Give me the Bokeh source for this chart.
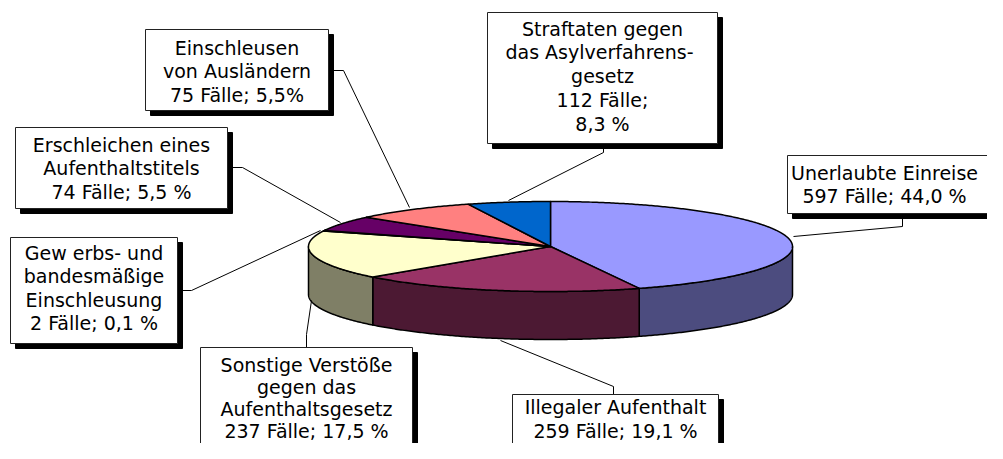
import numpy as np
from bokeh.plotting import figure
from bokeh.models import Range1d, ColumnDataSource
from bokeh.embed import file_html
from bokeh.resources import INLINE
from bokeh.core.properties import value

# ---------------- data (slice order: clockwise from 12 o'clock) ----------------
categories = ["Unerlaubte Einreise", "Illegaler Aufenthalt",
              "Sonstige Verstöße gegen das Aufenthaltsgesetz",
              "Gewerbs- und bandesmäßige Einschleusung",
              "Erschleichen eines Aufenthaltstitels",
              "Straftaten gegen das Asylverfahrensgesetz",
              "Einschleusen von Ausländern"]
counts = [597, 259, 237, 2, 74, 112, 75]
top_colors = ["#9999FF", "#993366", "#FFFFCC", "#CCFFFF", "#660066", "#FF8080", "#0066CC"]

label_lines = [
    ["Unerlaubte Einreise", "597 Fälle; 44,0 %"],
    ["Illegaler Aufenthalt", "259 Fälle; 19,1 %"],
    ["Sonstige Verstöße", "gegen das", "Aufenthaltsgesetz", "237 Fälle; 17,5 %"],
    ["Gew erbs- und", "bandesmäßige", "Einschleusung", "2 Fälle; 0,1 %"],
    ["Erschleichen eines", "Aufenthaltstitels", "74 Fälle; 5,5 %"],
    ["Straftaten gegen", "das  Asylverfahrens-", "gesetz", "112 Fälle;", "8,3 %"],
    ["Einschleusen", "von Ausländern", "75 Fälle; 5,5%"],
]

# ---------------- layout (reference pixel coordinates) ----------------
CX, CY, RX, RY, DEPTH = 550.0, 246.0, 242.0, 45.0, 48.0
# box: left, right, top, bottom, text centre x, first line y, line height
boxes = [
    (787, 1003, 155, 213, 884, 172, 23.6),
    (512, 718, 394, 462, 615, 406, 24.0),
    (200, 412, 347, 450, 306, 364, 22.0),
    (10, 177, 237, 343, 93.5, 252, 23.6),
    (15, 227, 127, 208, 121, 144, 23.6),
    (487, 717, 12, 143, 602, 28, 23.8),
    (145, 328, 29, 110, 236.5, 47, 23.6),
]
leaders = [
    [(902, 213), (902, 226), (793, 236)],
    [(613, 394), (613, 386), (500, 340)],
    [(306, 347), (306, 334), (311, 300)],
    [(177, 290), (191, 290), (320, 230)],
    [(227, 167), (242, 167), (340, 222)],
    [(603, 143), (603, 152), (508, 200)],
    [(328, 70), (343, 70), (409, 207)],
]
SHADOW = 5


def darken(c):
    r, g, b = int(c[1:3], 16), int(c[3:5], 16), int(c[5:7], 16)
    return "#%02X%02X%02X" % (r // 2, g // 2, b // 2)


side_colors = [darken(c) for c in top_colors]

p = figure(width=987, height=443, output_backend="svg", toolbar_location=None,
           x_range=Range1d(0, 987), y_range=Range1d(443, 0),
           min_border=0, x_axis_location=None, y_axis_location=None)
p.grid.visible = False
p.outline_line_color = None
p.background_fill_color = "white"

vals = np.array(counts, dtype=float)
frac = vals / vals.sum()
cum = np.concatenate([[0.0], np.cumsum(frac)])
t_start = 90.0 - 360.0 * cum[:-1]
t_end = 90.0 - 360.0 * cum[1:]


def arc(a, b):
    n = max(3, int(abs(b - a) * 2))
    t = np.radians(np.linspace(a, b, n))
    return CX + RX * np.cos(t), CY - RY * np.sin(t)


# sides (front half only)
sxs, sys, scol = [], [], []
for i in range(len(counts)):
    a = max(t_end[i], -180.0)
    b = min(t_start[i], 0.0)
    if a < b:
        x, y = arc(b, a)
        sxs.append(list(x) + list(x[::-1]))
        sys.append(list(y) + list((y + DEPTH)[::-1]))
        scol.append(side_colors[i])
p.patches(xs="xs", ys="ys", fill_color="c", line_color="black", line_width=1.5,
          line_join="round",
          source=ColumnDataSource(dict(xs=sxs, ys=sys, c=scol)))

# tops
txs, tys = [], []
for i in range(len(counts)):
    x, y = arc(t_start[i], t_end[i])
    txs.append([CX] + list(x) + [CX])
    tys.append([CY] + list(y) + [CY])
p.patches(xs="xs", ys="ys", fill_color="c", line_color="black", line_width=1.5,
          line_join="round",
          source=ColumnDataSource(dict(xs=txs, ys=tys, c=top_colors)))

# leader lines
p.multi_line(xs=[[pt[0] for pt in L] for L in leaders],
             ys=[[pt[1] for pt in L] for L in leaders],
             line_color="black", line_width=1)

# label boxes with shadow
L = [b[0] for b in boxes]
R = [b[1] for b in boxes]
T = [b[2] for b in boxes]
B = [b[3] for b in boxes]
p.quad(left=[v + SHADOW for v in L], right=[v + SHADOW for v in R],
       top=[v + SHADOW for v in T], bottom=[v + SHADOW for v in B],
       fill_color="black", line_color="black")
p.quad(left=L, right=R, top=T, bottom=B, fill_color="white",
       line_color="#222222", line_width=1)

tx, ty, tt = [], [], []
for bx, lines in zip(boxes, label_lines):
    for k, s in enumerate(lines):
        tx.append(bx[4])
        ty.append(bx[5] + k * bx[6])
        tt.append(s)
p.text(x=tx, y=ty, text=tt, text_font=value("DejaVu Sans"), text_font_size="19px",
       text_align="center", text_baseline="middle", text_color="black")

open("out.html", "w").write(file_html(p, INLINE))
